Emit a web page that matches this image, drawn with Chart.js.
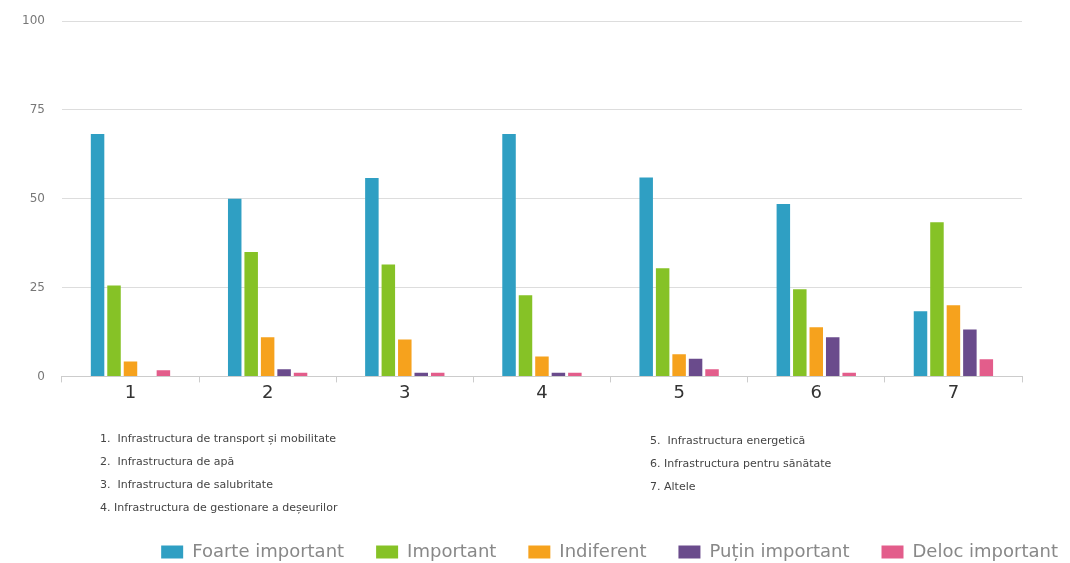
<!DOCTYPE html>
<html>
<head>
<meta charset="utf-8">
<script src="https://cdn.jsdelivr.net/npm/chart.js@4"></script>
<style>
  body { margin: 0; background: #fff; }
  #wrap { width: 1070px; height: 563px; position: relative; }
</style>
</head>
<body>
<div id="wrap"><canvas id="myChart"></canvas></div>
<script>
const categories = ["1", "2", "3", "4", "5", "6", "7"];
const foarteImportant = [68.2, 50, 55.8, 68.2, 56, 48.5, 18.3];
const important = [25.6, 35, 31.5, 22.8, 30.4, 24.5, 43.4];
const indiferent = [4.2, 11, 10.4, 5.6, 6.2, 13.8, 20];
const putinImportant = [0, 2, 1, 1, 5, 11, 13.2];
const delocImportant = [1.7, 1, 1, 1, 2, 1, 4.8];
const yTicks = [0, 25, 50, 75, 100];

const notesLeft = [
  "1.  Infrastructura de transport și mobilitate",
  "2.  Infrastructura de apă",
  "3.  Infrastructura de salubritate",
  "4. Infrastructura de gestionare a deșeurilor",
];
const notesRight = [
  "5.  Infrastructura energetică",
  "6. Infrastructura pentru sănătate",
  "7. Altele",
];

const FONT = "'DejaVu Sans', sans-serif";

// footnotes between the axis and the legend
const footnotes = {
  id: "footnotes",
  afterDraw(chart) {
    const c = chart.ctx;
    c.save();
    c.font = "11px " + FONT;
    c.fillStyle = "#444";
    c.textBaseline = "middle";
    notesLeft.forEach((t, i) => c.fillText(t, 100, 439 + i * 23));
    notesRight.forEach((t, i) => c.fillText(t, 650, 441 + i * 23));
    c.restore();
  },
};

const ctx = document.getElementById("myChart");

new Chart(ctx, {
  type: "bar",
  data: {
    labels: categories,
    datasets: [
      { label: "Foarte important", data: foarteImportant, backgroundColor: "#2f9fc3" },
      { label: "Important", data: important, backgroundColor: "#86c226" },
      { label: "Indiferent", data: indiferent, backgroundColor: "#f6a21d" },
      { label: "Puțin important", data: putinImportant, backgroundColor: "#6a4b8c" },
      { label: "Deloc important", data: delocImportant, backgroundColor: "#e35d8b" },
    ],
  },
  options: {
    responsive: true,
    maintainAspectRatio: false,
    animation: false,
    categoryPercentage: 0.6,
    barPercentage: 0.82,
    // legend runs off the right edge like in the original
    layout: { padding: { top: 21, right: -20, left: 5, bottom: -8 } },
    scales: {
      x: {
        grid: { drawOnChartArea: false, tickLength: 6, color: "#ccc" },
        border: { color: "#ccc" },
        ticks: { font: { family: FONT, size: 18 }, color: "#333", padding: 0 },
        afterFit(scale) { scale.height += 107; },
      },
      y: {
        min: 0,
        max: 100,
        afterBuildTicks(scale) { scale.ticks = yTicks.map(v => ({ value: v })); },
        afterFit(scale) { scale.paddingTop = 0; },
        grid: { color: "#ddd", drawTicks: false },
        border: { display: false },
        ticks: { font: { family: FONT, size: 12 }, color: "#777", padding: 17 },
      },
      // empty axis on the right, only to leave room after the plot
      yr: {
        position: "right",
        grid: { drawOnChartArea: false, drawTicks: false },
        border: { display: false },
        ticks: { display: false },
        afterFit(scale) {
          scale.width = 68;
          scale.paddingTop = 0;
        },
      },
    },
    plugins: {
      legend: {
        position: "bottom",
        align: "end",
        labels: {
          boxWidth: 22,
          boxHeight: 13,
          padding: 32,
          color: "#888",
          font: { family: FONT, size: 18 },
        },
      },
      tooltip: { enabled: false },
    },
  },
  plugins: [footnotes],
});
</script>
</body>
</html>
